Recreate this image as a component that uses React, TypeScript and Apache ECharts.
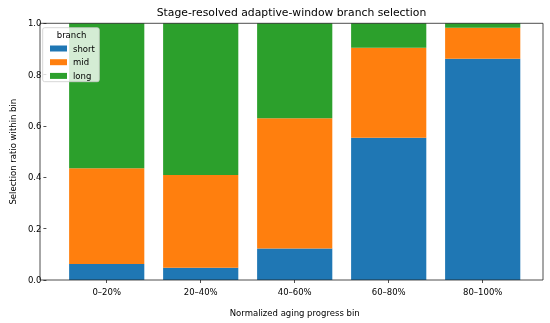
import React, { useEffect, useRef } from "react";
import * as echarts from "echarts";

const categories = ["0–20%", "20–40%", "40–60%", "60–80%", "80–100%"];
const shortVals = [0.062, 0.048, 0.123, 0.554, 0.862];
const midVals = [0.373, 0.361, 0.507, 0.351, 0.121];
const longVals = [0.565, 0.591, 0.370, 0.095, 0.017];
const seriesNames = ["short", "mid", "long"];
const yTicks = [0, 0.2, 0.4, 0.6, 0.8, 1.0];

const FONT = "DejaVu Sans";
const TXT = "#000";

export default function App() {
  const ref = useRef<HTMLDivElement>(null);
  useEffect(() => {
    if (!ref.current) return;
    const chart = echarts.init(ref.current, undefined, { renderer: "svg" });
    const colors = ["#1f77b4", "#ff7f0e", "#2ca02c"];
    const data = [shortVals, midVals, longVals];
    chart.setOption({
      animation: false,
      textStyle: { fontFamily: FONT },
      grid: { left: 53.3, right: 20.3, top: 23.3, bottom: 43 },
      xAxis: {
        type: "category",
        data: categories,
        axisLine: { show: false },
        axisTick: { show: true, alignWithLabel: true, length: 3, lineStyle: { color: "#222", width: 0.8 } },
        axisLabel: { fontSize: 8.5, color: TXT, margin: 7, fontFamily: FONT },
        name: "Normalized aging progress bin",
        nameLocation: "middle",
        nameGap: 28,
        nameTextStyle: { fontSize: 8.5, color: TXT, fontFamily: FONT },
      },
      yAxis: {
        type: "value",
        min: yTicks[0],
        max: yTicks[yTicks.length - 1],
        interval: 0.2,
        offset: 13.3,
        axisLine: { show: false },
        axisTick: { show: true, length: 3, lineStyle: { color: "#222", width: 0.8 } },
        axisLabel: { fontSize: 8.5, color: TXT, margin: 5, fontFamily: FONT, formatter: (v: number) => v.toFixed(1) },
        splitLine: { show: false },
        name: "Selection ratio within bin",
        nameLocation: "middle",
        nameGap: 23,
        nameTextStyle: { fontSize: 8.5, color: TXT, fontFamily: FONT },
      },
      legend: {
        orient: "vertical",
        left: 50,
        top: 44,
        itemWidth: 17,
        itemHeight: 6,
        itemGap: 4.7,
        icon: "rect",
        z: 20,
        padding: 0,
        textStyle: { fontSize: 8.5, color: TXT, fontFamily: FONT, padding: [0, 0, 0, 1] },
        data: seriesNames,
      },
      graphic: [
        {
          type: "rect",
          z: 10,
          shape: { x: 40, y: 23.3, width: 503, height: 256.7 },
          style: { fill: "none", stroke: "#222", lineWidth: 0.8 },
        },
        {
          type: "rect",
          z: 15,
          shape: { x: 42.7, y: 27.7, width: 56.6, height: 54, r: 2 },
          style: { fill: "rgba(255,255,255,0.8)", stroke: "#cccccc", lineWidth: 0.8 },
        },
        {
          type: "text",
          z: 20,
          x: 71.5,
          y: 34.5,
          style: { text: "branch", fontSize: 8.5, fontFamily: FONT, fill: TXT, textAlign: "center", textVerticalAlign: "middle" },
        },
        {
          type: "text",
          z: 20,
          x: 291.5,
          y: 12.5,
          style: {
            text: "Stage-resolved adaptive-window branch selection",
            fontSize: 10.8,
            fontFamily: FONT,
            fill: "#000",
            textAlign: "center",
            textVerticalAlign: "middle",
          },
        },
      ],
      series: seriesNames.map((n, i) => ({
        name: n,
        type: "bar",
        stack: "total",
        barWidth: "80%",
        itemStyle: { color: colors[i] },
        data: data[i],
      })),
    });
    return () => chart.dispose();
  }, []);
  return <div ref={ref} style={{ position: "fixed", left: 0, top: 0, width: 550, height: 323 }} />;
}
